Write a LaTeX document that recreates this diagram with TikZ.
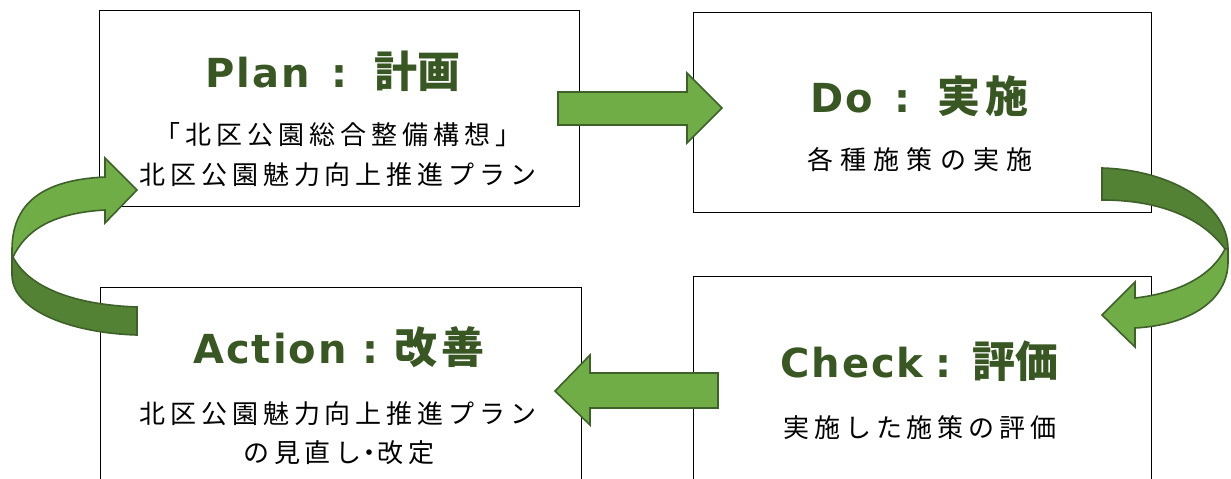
\documentclass[tikz,border=0pt]{standalone}
\usepackage{fontspec}
\setmainfont{DejaVu Sans}
\newfontfamily\latb{DejaVu Sans}[LetterSpace=5]
\newfontfamily\jpt{Noto Sans CJK JP}[LetterSpace=10]
\newfontfamily\jpr{Noto Sans CJK JP}[LetterSpace=19]
\definecolor{ttlgreen}{HTML}{385723}
\definecolor{lightg}{HTML}{70AD47}
\definecolor{darkg}{HTML}{548235}
\definecolor{edgeg}{HTML}{3E6129}
\tikzset{
  card/.style={draw=black, line width=0.8pt, fill=white, inner sep=0pt, anchor=north west},
  ttl/.style={inner sep=0pt, anchor=base west, text=ttlgreen, font=\fontsize{40}{40}\selectfont\bfseries},
  bodytext/.style={inner sep=0pt, anchor=base, font=\jpr\fontsize{26}{26}\selectfont},
  lightarrow/.style={fill=lightg, draw=edgeg, line width=1.6pt, line join=miter},
  darkarrow/.style={fill=darkg, draw=edgeg, line width=1.6pt, line join=miter},
}
\newcommand{\kj}[1]{{\jpt\fontsize{43}{43}\selectfont #1}}
\begin{document}
\begin{tikzpicture}[x=1pt,y=-1pt]
\useasboundingbox (0,0) rectangle (1231,479);
\clip (0,0) rectangle (1231,479);
% boxes
\node[card, minimum width=480pt, minimum height=196pt] (plan) at (99,10) {};
\node[card, minimum width=458pt, minimum height=200pt] (do) at (693,12) {};
\node[card, minimum width=458pt, minimum height=224pt] (check) at (693,276) {};
\node[card, minimum width=481pt, minimum height=213pt] (action) at (100,287) {};
% titles
\node[ttl] (plant) at (205.4,87) {{\latb Plan}\hspace{21pt}{\latb :}\hspace{27pt}{\jpt\fontsize{43}{43}\selectfont\addfontfeatures{LetterSpace=0}計画}};
\node[ttl] (dot) at (810.4,112) {{\latb Do}\hspace{21.5pt}{\latb :}\hspace{27pt}\kj{実施}};
\node[ttl] (checkt) at (780,377) {{\latb Check}\hspace{12pt}{\latb :}\hspace{21pt}{\jpt\fontsize{43}{43}\selectfont\addfontfeatures{LetterSpace=0}評価}};
\node[ttl] (actiont) at (193,363) {{\latb Action}\hspace{16pt}{\latb :}\hspace{16pt}\kj{改善}};
% body texts
\node[bodytext] (p1) at (338,144.5) {「北区公園総合整備構想」};
\node[bodytext] (p2) at (338,184.5) {北区公園魅力向上推進プラン};
\node[bodytext, font=\jpr\fontsize{26}{26}\selectfont\addfontfeatures{LetterSpace=27}] (d1) at (920,169.5) {各種施策の実施};
\node[bodytext] (c1) at (920,437.5) {実施した施策の評価};
\node[bodytext] (a1) at (338,423.5) {北区公園魅力向上推進プラン};
\node[bodytext] (a2) at (339,462.5) {の見直し\hspace{-5pt}・\hspace{-5pt}改定};
% straight arrows
\draw[lightarrow] (558,92) -- (687,92) -- (687,73) -- (722,108) -- (687,143) -- (687,125) -- (558,125) -- cycle;
\draw[lightarrow] (718,373) -- (590,373) -- (590,355) -- (555,391) -- (590,425) -- (590,408) -- (718,408) -- cycle;
% left curved arrow (Action -> Plan)
\draw[darkarrow] (12,257) -- (12,275) .. controls (12,310) and (70,333) .. (137,335) -- (137,307) .. controls (80,305) and (30,290) .. (13,257) -- cycle;
\draw[lightarrow] (105,177) -- (105,158) -- (137,190) -- (105,223) -- (105,210) .. controls (50,213) and (25,232) .. (13,257) -- (12,257) -- (12,250) .. controls (12,205) and (40,180) .. (105,177) -- cycle;
% right curved arrow (Do -> Check)
\draw[darkarrow] (1102,168) .. controls (1172,170) and (1228,205) .. (1228,249) -- (1225,249) .. controls (1200,215) and (1155,200) .. (1102,200) -- cycle;
\draw[lightarrow] (1228,249) -- (1228,262) .. controls (1228,300) and (1190,325) .. (1135,328) -- (1135,347) -- (1102,315) -- (1135,282) -- (1135,298) .. controls (1180,293) and (1212,275) .. (1225,249) -- cycle;
\end{tikzpicture}
\end{document}
